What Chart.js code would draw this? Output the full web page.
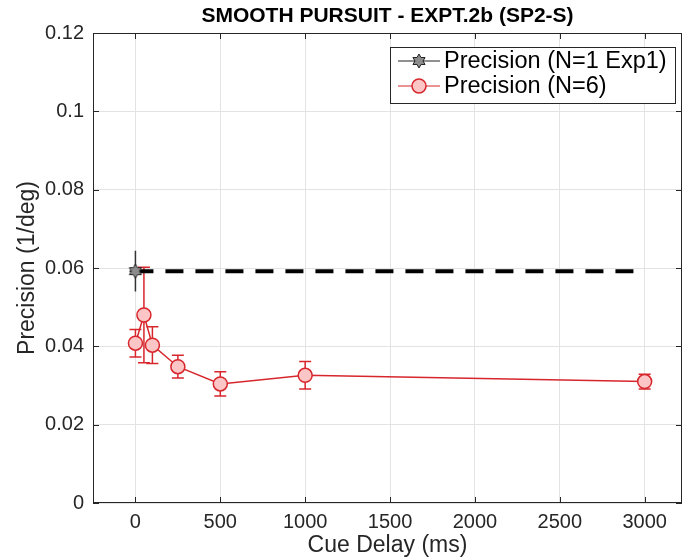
<!DOCTYPE html>
<html>
<head>
<meta charset="utf-8">
<script src="https://cdn.jsdelivr.net/npm/chart.js@4/dist/chart.umd.min.js"></script>
<style>
  body { margin: 0; background: #fff; }
  #wrap { width: 696px; height: 559px; }
</style>
</head>
<body>
<div id="wrap"><canvas id="chart" width="696" height="559"></canvas></div>
<script>
// data
const delayMs = [0, 50, 100, 250, 500, 1000, 3000];
const precisionN6 = [0.0408, 0.048, 0.0403, 0.0348, 0.0304, 0.0326, 0.031];
const precisionN6Err = [0.0035, 0.0122, 0.0047, 0.0029, 0.0031, 0.0035, 0.0019];

const exp1Delay = [0];
const exp1Precision = [0.0592];
const exp1PrecisionErr = [0.0052];
const exp1DelayErr = [35];

const refLineX = [0, 3000];
const refLineY = [0.0592, 0.0592];

const xTicks = [0, 500, 1000, 1500, 2000, 2500, 3000];
const xTickLabels = ['0', '500', '1000', '1500', '2000', '2500', '3000'];
const yTicks = [0, 0.02, 0.04, 0.06, 0.08, 0.1, 0.12];
const yTickLabels = ['0', '0.02', '0.04', '0.06', '0.08', '0.1', '0.12'];

const FONT = '"Liberation Sans", Helvetica, Arial, sans-serif';
const RED = '#d7262c';
const RED_FILL = '#fcc6c6';
const AXIS = '#262626';

// six-pointed star used by MATLAB's 'hexagram' marker
function hexagram(r) {
  const c = document.createElement('canvas');
  const s = Math.ceil(r * 2 + 4);
  c.width = s; c.height = s;
  const g = c.getContext('2d');
  g.beginPath();
  for (let i = 0; i < 12; i++) {
    const rad = i % 2 === 0 ? r : r / Math.sqrt(3);
    const a = -Math.PI / 2 + i * Math.PI / 6;
    const px = s / 2 + rad * Math.cos(a), py = s / 2 + rad * Math.sin(a);
    i === 0 ? g.moveTo(px, py) : g.lineTo(px, py);
  }
  g.closePath();
  g.fillStyle = '#8c8c8c';
  g.fill();
  g.lineWidth = 1;
  g.strokeStyle = '#222';
  g.stroke();
  return c;
}
const starImg = hexagram(7);

const toXY = (xs, ys) => xs.map((x, i) => ({ x: x, y: ys[i] }));

const errorBars = {
  id: 'errorBars',
  beforeDatasetsDraw(chart) {
    const { ctx, scales: { x, y } } = chart;
    chart.data.datasets.forEach((ds) => {
      if (!ds.errY) return;
      ctx.save();
      ctx.strokeStyle = ds.errColor;
      ctx.lineWidth = 1.5;
      ds.data.forEach((p, i) => {
        const px = x.getPixelForValue(p.x);
        const top = y.getPixelForValue(p.y + ds.errY[i]);
        const bot = y.getPixelForValue(p.y - ds.errY[i]);
        ctx.beginPath();
        ctx.moveTo(px, top); ctx.lineTo(px, bot);
        if (ds.capW) {
          ctx.moveTo(px - ds.capW, top); ctx.lineTo(px + ds.capW, top);
          ctx.moveTo(px - ds.capW, bot); ctx.lineTo(px + ds.capW, bot);
        }
        if (ds.errX) {
          const py = y.getPixelForValue(p.y);
          ctx.moveTo(x.getPixelForValue(p.x - ds.errX[i]), py);
          ctx.lineTo(x.getPixelForValue(p.x + ds.errX[i]), py);
        }
        ctx.stroke();
      });
      ctx.restore();
    });
  }
};

const frame = {
  id: 'frame',
  afterDatasetsDraw(chart) {
    const { ctx, chartArea: a, scales: { x, y } } = chart;
    ctx.save();
    ctx.strokeStyle = AXIS;
    ctx.lineWidth = 1;
    ctx.strokeRect(a.left + 0.5, a.top + 0.5, a.right - a.left - 1, a.bottom - a.top - 1);
    ctx.beginPath();
    xTicks.forEach((v) => {
      const px = Math.round(x.getPixelForValue(v)) + 0.5;
      ctx.moveTo(px, a.bottom); ctx.lineTo(px, a.bottom - 6);
      ctx.moveTo(px, a.top); ctx.lineTo(px, a.top + 6);
    });
    yTicks.forEach((v) => {
      const py = Math.round(y.getPixelForValue(v)) + 0.5;
      ctx.moveTo(a.left, py); ctx.lineTo(a.left + 6, py);
      ctx.moveTo(a.right, py); ctx.lineTo(a.right - 6, py);
    });
    ctx.stroke();
    ctx.restore();
  },
  afterDraw(chart) {
    const { ctx, chartArea: a } = chart;
    ctx.save();
    // title and axis labels
    ctx.fillStyle = '#000';
    ctx.textAlign = 'center';
    ctx.textBaseline = 'middle';
    ctx.font = 'bold 21px ' + FONT;
    ctx.fillText('SMOOTH PURSUIT - EXPT.2b (SP2-S)', (a.left + a.right) / 2, 16);
    ctx.fillStyle = AXIS;
    ctx.font = '23px ' + FONT;
    ctx.fillText('Cue Delay (ms)', (a.left + a.right) / 2, 546);
    ctx.save();
    ctx.translate(28, (a.top + a.bottom) / 2);
    ctx.rotate(-Math.PI / 2);
    ctx.fillText('Precision (1/deg)', 0, 0);
    ctx.restore();

    // legend
    const lx = 390, ly = 47, lw = 285, lh = 56;
    ctx.fillStyle = '#fff';
    ctx.fillRect(lx, ly, lw, lh);
    ctx.strokeStyle = AXIS;
    ctx.lineWidth = 1;
    ctx.strokeRect(lx + 0.5, ly + 0.5, lw, lh);
    const rows = [
      { label: 'Precision (N=1 Exp1)', color: '#222', star: true },
      { label: 'Precision (N=6)', color: RED, star: false }
    ];
    ctx.font = '23.5px ' + FONT;
    ctx.textAlign = 'left';
    rows.forEach((r, i) => {
      const cy = ly + 14 + i * 25;
      ctx.strokeStyle = r.color;
      ctx.lineWidth = 1.2;
      ctx.beginPath();
      ctx.moveTo(lx + 8, cy); ctx.lineTo(lx + 50, cy);
      ctx.stroke();
      if (r.star) {
        ctx.drawImage(starImg, lx + 29 - starImg.width / 2, cy - starImg.height / 2);
      } else {
        ctx.beginPath();
        ctx.arc(lx + 29, cy, 7, 0, Math.PI * 2);
        ctx.fillStyle = RED_FILL;
        ctx.fill();
        ctx.lineWidth = 1.5;
        ctx.stroke();
      }
      ctx.fillStyle = '#000';
      ctx.fillText(r.label, lx + 54, cy + 1);
    });
    ctx.restore();
  }
};

new Chart(document.getElementById('chart'), {
  type: 'scatter',
  data: {
    datasets: [
      {
        label: 'Precision (N=6)',
        data: toXY(delayMs, precisionN6),
        errY: precisionN6Err,
        errColor: RED,
        capW: 6,
        showLine: true,
        borderColor: RED,
        borderWidth: 1.5,
        pointRadius: 7,
        pointBorderWidth: 1.5,
        pointBackgroundColor: RED_FILL,
        pointBorderColor: RED,
        order: 2
      },
      {
        label: 'reference',
        data: toXY(refLineX, refLineY),
        showLine: true,
        borderColor: '#000',
        borderWidth: 4,
        borderDash: [18, 12],
        pointRadius: 0,
        order: 1
      },
      {
        label: 'Precision (N=1 Exp1)',
        data: toXY(exp1Delay, exp1Precision),
        errY: exp1PrecisionErr,
        errX: exp1DelayErr,
        errColor: '#333',
        pointStyle: starImg,
        pointRadius: 7,
        order: 0
      }
    ]
  },
  options: {
    responsive: false,
    animation: false,
    layout: { padding: { top: 33, right: 14, left: 0, bottom: 0 } },
    plugins: { legend: { display: false }, tooltip: { enabled: false } },
    scales: {
      x: {
        type: 'linear',
        min: -250,
        max: 3220,
        afterBuildTicks: (s) => { s.ticks = xTicks.map((v) => ({ value: v })); },
        afterFit: (s) => { s.height = 56; },
        grid: { color: '#e3e3e3', drawTicks: false },
        border: { display: false },
        ticks: {
          color: AXIS,
          font: { family: FONT, size: 20 },
          padding: 7,
          maxRotation: 0,
          callback: (v, i) => xTickLabels[i]
        }
      },
      y: {
        min: 0,
        max: 0.12,
        afterBuildTicks: (s) => { s.ticks = yTicks.map((v) => ({ value: v })); },
        afterFit: (s) => { s.width = 93; },
        grid: { color: '#e3e3e3', drawTicks: false },
        border: { display: false },
        ticks: {
          color: AXIS,
          font: { family: FONT, size: 20 },
          padding: 9,
          callback: (v, i) => yTickLabels[i]
        }
      }
    }
  },
  plugins: [errorBars, frame]
});
</script>
</body>
</html>
